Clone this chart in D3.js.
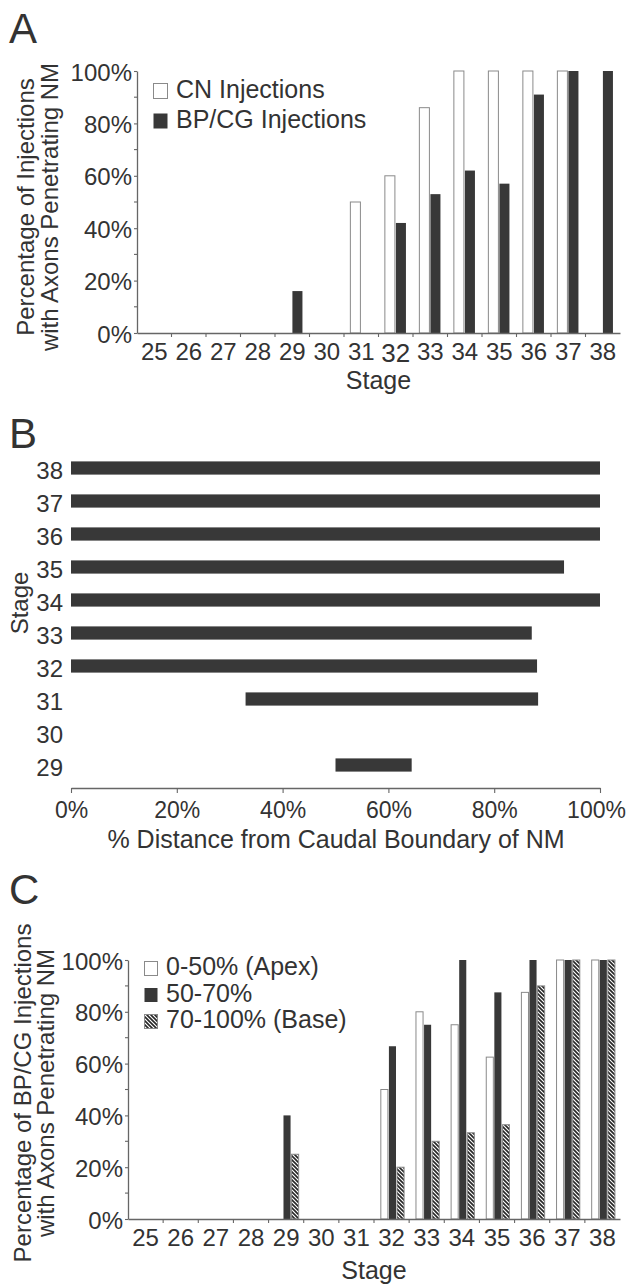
<!DOCTYPE html>
<html>
<head>
<meta charset="utf-8">
<script src="https://cdn.jsdelivr.net/npm/d3@7"></script>
<style>
  html, body { margin: 0; padding: 0; background: #fff; }
  svg { display: block; }
  text { font-family: "Liberation Sans", Arial, Helvetica, sans-serif; fill: #333; }
</style>
</head>
<body>
<svg id="chart" width="629" height="1284"></svg>
<script>
// ---------- DATA ----------
const stagesA = [25, 26, 27, 28, 29, 30, 31, 32, 33, 34, 35, 36, 37, 38];
const cnInjections = [0, 0, 0, 0, 0, 0, 50, 60, 86, 100, 100, 100, 100, 0];
const bpcgInjections = [0, 0, 0, 0, 16, 0, 0, 42, 53, 62, 57, 91, 100, 100];
const seriesA = ["CN Injections", "BP/CG Injections"];

const stagesB = [29, 30, 31, 32, 33, 34, 35, 36, 37, 38];
const rangeStart = [50, null, 33, 0, 0, 0, 0, 0, 0, 0];
const rangeEnd = [64.4, null, 88.3, 88.1, 87.1, 100, 93.2, 100, 100, 100];

const stagesC = [25, 26, 27, 28, 29, 30, 31, 32, 33, 34, 35, 36, 37, 38];
const apex = [0, 0, 0, 0, 0, 0, 0, 50, 80, 75, 62.5, 87.5, 100, 100];
const middle = [0, 0, 0, 0, 40, 0, 0, 66.7, 75, 100, 87.5, 100, 100, 100];
const base = [0, 0, 0, 0, 25, 0, 0, 20, 30, 33.3, 36.4, 90, 100, 100];
const seriesC = ["0-50% (Apex)", "50-70%", "70-100% (Base)"];

const pctTicks = [0, 20, 40, 60, 80, 100];
const pctMinor = [10, 30, 50, 70, 90];

// ---------- SETUP ----------
const svg = d3.select("#chart");
const INK = "#333";
const DARK = "#383838";
const AXIS = "#666";
const FS = 24;      // tick labels
const FT = 25;      // titles & legends
const FY = 24;      // rotated axis titles

const defs = svg.append("defs");
const pat = defs.append("pattern").attr("id", "hatch")
  .attr("patternUnits", "userSpaceOnUse").attr("width", 4).attr("height", 4);
pat.append("rect").attr("width", 4).attr("height", 4).attr("fill", "#fff");
pat.append("path").attr("d", "M-1,-1L5,5M-1,3L1,5M3,-1L5,1")
  .attr("stroke", "#262626").attr("stroke-width", 1.6);

function fill(kind) {
  return kind === 0 ? "#fff" : kind === 1 ? DARK : "url(#hatch)";
}
function stroke(kind) {
  return kind === 1 ? "none" : "#8a8a8a";
}

function styleAxis(g, fs) {
  g.selectAll("path.domain").attr("stroke", AXIS).attr("stroke-width", 1.3);
  g.selectAll(".tick line").attr("stroke", AXIS).attr("stroke-width", 1.1);
  g.selectAll("text").attr("font-size", fs || FS).attr("fill", INK)
    .attr("font-family", '"Liberation Sans", Arial, Helvetica, sans-serif');
}

function panelLetter(t, x, y) {
  svg.append("text").attr("x", x).attr("y", y).attr("font-size", 42).text(t);
}

// grouped bar panel
function groupedPanel(opts) {
  const { stages, series, values, x0, x1, yTop, yBot, subRange, titleLines, titleX, titleY, legend } = opts;
  const x = d3.scaleBand().domain(stages).range([x0, x1]).paddingInner(0).paddingOuter(0);
  const y = d3.scaleLinear().domain([0, 100]).range([yBot, yTop]);
  const step = x.step();
  const xs = d3.scaleBand().domain(series.map((d, i) => i))
    .range([subRange[0] * step, subRange[1] * step]).padding(0);

  // y axis
  const gy = svg.append("g").attr("transform", `translate(${x0},0)`)
    .call(d3.axisLeft(y).tickValues(pctTicks).tickFormat(d => d + "%").tickSize(3).tickPadding(2).tickSizeOuter(0));
  styleAxis(gy);
  gy.selectAll(".tick text").attr("dy", "0.38em");
  gy.append("g").selectAll("line").data(pctMinor).join("line")
    .attr("x1", -3).attr("x2", 0).attr("y1", d => y(d)).attr("y2", d => y(d))
    .attr("stroke", AXIS).attr("stroke-width", 1.1);

  // bars
  series.forEach((s, k) => {
    const data = stages.map((st, i) => ({ st, v: values[k][i] })).filter(d => d.v > 0);
    svg.append("g").selectAll("rect").data(data).join("rect")
      .attr("x", d => x(d.st) + xs(k) + 0.5)
      .attr("width", xs.bandwidth() - 1)
      .attr("y", d => y(d.v))
      .attr("height", d => y(0) - y(d.v))
      .attr("fill", fill(opts.kinds[k]))
      .attr("stroke", stroke(opts.kinds[k]))
      .attr("stroke-width", 1);
  });

  // x axis
  const gx = svg.append("g").attr("transform", `translate(0,${yBot})`)
    .call(d3.axisBottom(x).tickSize(0).tickPadding(10).tickSizeOuter(0));
  styleAxis(gx);
  gx.append("g").selectAll("line").data(stages.slice(1)).join("line")
    .attr("x1", d => x(d)).attr("x2", d => x(d)).attr("y1", 0).attr("y2", 4)
    .attr("stroke", AXIS).attr("stroke-width", 1.1);

  // y title
  const tx = svg.append("text").attr("text-anchor", "middle").attr("font-size", FY)
    .attr("transform", `translate(${titleX[0]},${titleY}) rotate(-90)`);
  tx.append("tspan").attr("x", 0).attr("y", 0).text(titleLines[0]);
  tx.append("tspan").attr("x", 0).attr("y", titleX[1] - titleX[0]).text(titleLines[1]);

  // x title
  svg.append("text").attr("text-anchor", "middle").attr("font-size", FT)
    .attr("x", (x0 + x1) / 2).attr("y", opts.stageY).text("Stage");

  // legend
  const lg = svg.append("g");
  series.forEach((s, k) => {
    const by = legend.y0 + k * legend.dy;
    lg.append("rect").attr("x", legend.x + 0.5).attr("y", by - legend.box + 0.5)
      .attr("width", legend.box - 1).attr("height", legend.box)
      .attr("fill", fill(opts.kinds[k])).attr("stroke", stroke(opts.kinds[k]));
    lg.append("text").attr("x", legend.x + legend.box + 8).attr("y", by)
      .attr("font-size", FT).text(s);
  });
  return gx;
}

// ---------- PANEL A ----------
panelLetter("A", 9, 43);
const gxA = groupedPanel({
  stages: stagesA, series: seriesA, values: [cnInjections, bpcgInjections], kinds: [0, 1],
  x0: 137, x1: 620, yTop: 71, yBot: 333, subRange: [0.17, 0.81],
  titleLines: ["Percentage of Injections", "with Axons Penetrating NM"], titleX: [34, 58], titleY: 207,
  stageY: 389,
  legend: { x: 153, y0: 98, dy: 30, box: 15 }
});
// the enlarged "32" label of the original figure
gxA.selectAll(".tick text").filter(d => d === 32).attr("font-size", 26).attr("dy", "0.72em");

// ---------- PANEL B ----------
panelLetter("B", 9, 448);
{
  const xB = d3.scaleLinear().domain([0, 100]).range([71, 600]);
  const yB = d3.scaleBand().domain(stagesB.slice().reverse()).range([451.5, 781.5]).paddingInner(0.6).paddingOuter(0.3);
  const data = stagesB.map((st, i) => ({ st, a: rangeStart[i], b: rangeEnd[i] })).filter(d => d.a !== null);
  svg.append("g").selectAll("rect").data(data).join("rect")
    .attr("x", d => xB(d.a)).attr("width", d => xB(d.b) - xB(d.a))
    .attr("y", d => yB(d.st)).attr("height", yB.bandwidth())
    .attr("fill", DARK);
  const gyB = svg.append("g").attr("transform", "translate(70,0)")
    .call(d3.axisLeft(yB).tickSize(0).tickPadding(7));
  styleAxis(gyB);
  gyB.select("path.domain").remove();
  gyB.selectAll(".tick text").attr("dy", "0.45em");
  const gxB = svg.append("g").attr("transform", "translate(0,788)")
    .call(d3.axisBottom(xB).tickValues(pctTicks).tickFormat(d => d + "%").tickSize(5).tickPadding(9).tickSizeOuter(0));
  styleAxis(gxB, 23);
  gxB.selectAll(".tick text").filter(d => d === 100).attr("dx", -4);
  svg.append("text").attr("text-anchor", "middle").attr("font-size", FT)
    .attr("x", 336).attr("y", 848).text("% Distance from Caudal Boundary of NM");
  svg.append("text").attr("text-anchor", "middle").attr("font-size", FY)
    .attr("transform", "translate(28,603) rotate(-90)").text("Stage");
}

// ---------- PANEL C ----------
panelLetter("C", 9, 904);
groupedPanel({
  stages: stagesC, series: seriesC, values: [apex, middle, base], kinds: [0, 1, 2],
  x0: 128, x1: 620, yTop: 960, yBot: 1219, subRange: [0.18, 0.87],
  titleLines: ["Percentage of BP/CG Injections", "with Axons Penetrating NM"], titleX: [31, 54], titleY: 1093,
  stageY: 1279,
  legend: { x: 144, y0: 975, dy: 26.5, box: 14 }
});
</script>
</body>
</html>
